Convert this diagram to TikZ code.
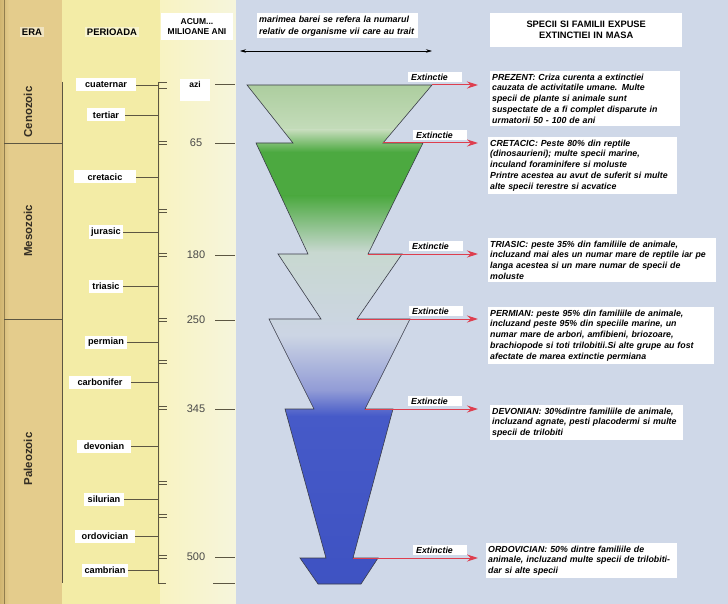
\documentclass[tikz,border=0pt]{standalone}
\usepackage{fontspec}
\setmainfont{Liberation Sans}
\definecolor{eratan}{RGB}{228,204,140}
\definecolor{eraedge}{RGB}{208,180,112}
\definecolor{eratext}{RGB}{52,46,36}
\definecolor{periodyellow}{RGB}{243,236,166}
\definecolor{agecream}{RGB}{248,243,194}
\definecolor{agewhite}{RGB}{246,245,220}
\definecolor{paleblue}{RGB}{207,216,232}
\definecolor{lineolive}{RGB}{92,86,66}
\definecolor{agegray}{RGB}{72,72,72}
\definecolor{extred}{RGB}{222,62,78}
\definecolor{funnelline}{RGB}{58,60,72}
\definecolor{softgreen}{RGB}{172,205,158}
\definecolor{palegreen}{RGB}{196,220,186}
\definecolor{deepgreen}{RGB}{76,169,64}
\definecolor{mistgreen}{RGB}{200,216,208}
\definecolor{mistblue}{RGB}{204,213,228}
\definecolor{lavender}{RGB}{146,156,214}
\definecolor{deepblue}{RGB}{70,90,200}
\definecolor{darkblue}{RGB}{62,82,194}
\usetikzlibrary{arrows.meta,positioning}
\newcommand{\funnelpts}{(247,85) -- (432,85) -- (383,143) -- (423,143) -- (368,254) -- (402,254) -- (357,319) -- (410,319) -- (365,409) -- (393,409) -- (353,558) -- (378,558) -- (361,584) -- (318,584) -- (300,558) -- (326,558) -- (285,409) -- (314,409) -- (269,319) -- (321,319) -- (278,254) -- (308,254) -- (256,143) -- (293,143) -- cycle}
\begin{document}
\begin{tikzpicture}[x=1pt,y=-1pt,
    periodbox/.style={fill=white,font=\bfseries\fontsize{9.2}{10}\selectfont,inner xsep=2pt,inner ysep=1.5pt,minimum height=13pt},
    eralabel/.style={rotate=90,font=\bfseries\fontsize{11.5}{13}\selectfont,text=eratext},
    headbox/.style={font=\bfseries\fontsize{8.5}{10.5}\selectfont,align=center},
    agelabel/.style={font=\fontsize{11}{13}\selectfont,text=agegray},
    infobox/.style={fill=white,anchor=north west,align=left,inner xsep=2pt,inner ysep=2.5pt,font=\bfseries\itshape\fontsize{8.8}{10.8}\selectfont},
    extlabel/.style={fill=white,anchor=south west,text width=48pt,align=left,inner xsep=3pt,inner ysep=1.5pt,font=\bfseries\itshape\fontsize{8.8}{9.5}\selectfont},
    extarrow/.style={extred,line width=1pt,-{Stealth[length=11pt,width=7pt]}},
    ticker/.style={lineolive,line width=0.6pt},
    funneledge/.style={draw=funnelline,line width=0.6pt}]
  \useasboundingbox (0,0) rectangle (728,604);
  \fill[eratan] (0,0) rectangle (62,604);
  \shade[left color=eraedge,right color=eratan] (0,0) rectangle (9,604);
  \fill[periodyellow] (62,0) rectangle (160,604);
  \shade[left color=agecream,right color=agewhite] (160,0) rectangle (236,604);
  \fill[paleblue] (236,0) rectangle (728,604);

  \node[headbox,font=\bfseries\fontsize{9.5}{11}\selectfont,fill=white,fill opacity=0.45,text opacity=1,inner sep=2pt] (hera) at (32,32) {ERA};
  \node[headbox,font=\bfseries\fontsize{9.5}{11}\selectfont,fill=white,fill opacity=0.45,text opacity=1,inner sep=2pt] (hperiod) at (112,32) {PERIOADA};
  \node[headbox,fill=white,minimum width=72pt,minimum height=27pt,inner sep=1pt] (hage) at (197,26.5) {ACUM...\\MILIOANE ANI};
  \node[infobox,font=\bfseries\itshape\fontsize{8.9}{12}\selectfont,text width=157pt] (hsize) at (257,13) {marimea barei se refera la numarul\\relativ de organisme vii care au trait};
  \node[headbox,font=\bfseries\fontsize{9.3}{11}\selectfont,fill=white,anchor=north west,text width=186pt,minimum height=34pt,inner xsep=3pt] (hspecies) at (490,13) {SPECII SI FAMILII EXPUSE\\EXTINCTIEI IN MASA};
  \coordinate (spanL) at (240,51);
  \coordinate (spanR) at (432,51);
  \draw[black,line width=0.6pt,{Stealth[length=6pt,width=3.5pt]}-{Stealth[length=6pt,width=3.5pt]}] (spanL) -- (spanR);

  \draw[eraedge!70!black,line width=0.4pt] (4,0) -- (4,604);
  \draw[ticker] (62,82) -- (62,583);
  \draw[ticker] (4,143) -- (62,143);
  \draw[ticker] (4,319) -- (62,319);
  \node[eralabel] (cenozoic) at (28,112) {Cenozoic};
  \node[eralabel] (mesozoic) at (28,231) {Mesozoic};
  \node[eralabel] (paleozoic) at (28,459) {Paleozoic};

  \draw[ticker] (158,82) -- (158,583);
  \foreach \ty/\tg in {85/3, 143/1.5, 211/1.2, 255/1.5, 320/1.5, 362/1.5, 408/1.5, 483/1.5, 516/1.5, 557/1.5} {
    \draw[ticker] (158,\ty-\tg) -- ++(9,0);
    \draw[ticker] (158,\ty+\tg) -- ++(9,0);
  }
  \draw[ticker] (158,583) -- ++(8,0);
  \foreach \pname/\px/\py/\pw in {cuaternar/106/85/60, tertiar/106/115/38, cretacic/105/177/62, jurasic/106/232/34, triasic/106/286/34, permian/106/342/42, carbonifer/100/382/62, devonian/104/446/54, silurian/104/499/40, ordovician/105/536/60, cambrian/105/570/46} {
    \node[periodbox,minimum width=\pw pt] (p-\pname) at (\px,\py) {\pname};
    \coordinate (ax-\pname) at (158,\py);
    \draw[ticker] (p-\pname.east) -- (ax-\pname);
  }

  \node[fill=white,font=\bfseries\fontsize{8.5}{9}\selectfont,anchor=north,minimum width=30pt,inner sep=2pt,text depth=12pt] (azi) at (195,79) {azi};
  \coordinate (ta) at (215,84);
  \draw[ticker] (ta) -- ++(20,0);
  \foreach \ay/\alab in {143/65, 255/180, 320/250, 409/345, 557/500} {
    \node[agelabel] (age-\alab) at (196,\ay) {\alab};
    \coordinate (tk-\alab) at (215,\ay);
    \draw[ticker] (tk-\alab) -- ++(20,0);
  }
  \coordinate (tbottom) at (213,583);
  \draw[ticker] (tbottom) -- ++(22,0);

  \begin{scope}
    \clip \funnelpts;
    \shade[top color=softgreen,bottom color=palegreen] (240,84) rectangle (440,130);
    \shade[top color=palegreen,bottom color=deepgreen] (240,130) rectangle (440,152);
    \fill[deepgreen] (240,152) rectangle (440,196);
    \shade[top color=deepgreen,bottom color=mistgreen] (240,196) rectangle (440,252);
    \shade[top color=mistgreen,bottom color=mistblue] (240,252) rectangle (440,335);
    \shade[top color=mistblue,bottom color=lavender] (240,335) rectangle (440,390);
    \shade[top color=lavender,bottom color=deepblue] (240,390) rectangle (440,416);
    \shade[top color=deepblue,bottom color=darkblue] (240,416) rectangle (440,590);
  \end{scope}
  \draw[funneledge] \funnelpts;

  \foreach \nx/\ny/\bx [count=\i] in {432/85/408, 383/143/413, 368/254/409, 357/319/409, 365/409/408, 353/558/413} {
    \coordinate (neck\i) at (\nx,\ny);
    \coordinate (tip\i) at (478,\ny);
    \draw[extarrow] (neck\i) -- (tip\i);
    \node[extlabel] (ext\i) at (\bx,\ny-3) {Extinctie};
  }

  \node[infobox,text width=186pt] (prezent) at (490,71) {PREZENT: Criza curenta a extinctiei\\cauzata de activitatile umane. Multe\\specii de plante si animale sunt\\suspectate de a fi complet disparute in\\urmatorii 50 - 100 de ani};
  \node[infobox,text width=185pt] (cretacic) at (488,137) {CRETACIC: Peste 80\% din reptile\\(dinosaurieni); multe specii marine,\\inculand foraminifere si moluste\\Printre acestea au avut de suferit si multe\\alte specii terestre si acvatice};
  \node[infobox,text width=224pt] (triasic) at (488,238) {TRIASIC: peste 35\% din familiile de animale,\\incluzand mai ales un numar mare de reptile iar pe\\langa acestea si un mare numar de specii de\\moluste};
  \node[infobox,text width=222pt] (permian) at (488,307) {PERMIAN: peste 95\% din familiile de animale,\\incluzand peste 95\% din speciile marine, un\\numar mare de arbori, amfibieni, briozoare,\\brachiopode si toti trilobitii.Si alte grupe au fost\\afectate de marea extinctie permiana};
  \node[infobox,text width=189pt] (devonian) at (490,405) {DEVONIAN: 30\%dintre familiile de animale,\\incluzand agnate, pesti placodermi si multe\\specii de trilobiti};
  \node[infobox,text width=187pt] (ordovician) at (486,543) {ORDOVICIAN: 50\% dintre familiile de\\animale, incluzand multe specii de trilobiti-\\dar si alte specii};
\end{tikzpicture}
\end{document}
